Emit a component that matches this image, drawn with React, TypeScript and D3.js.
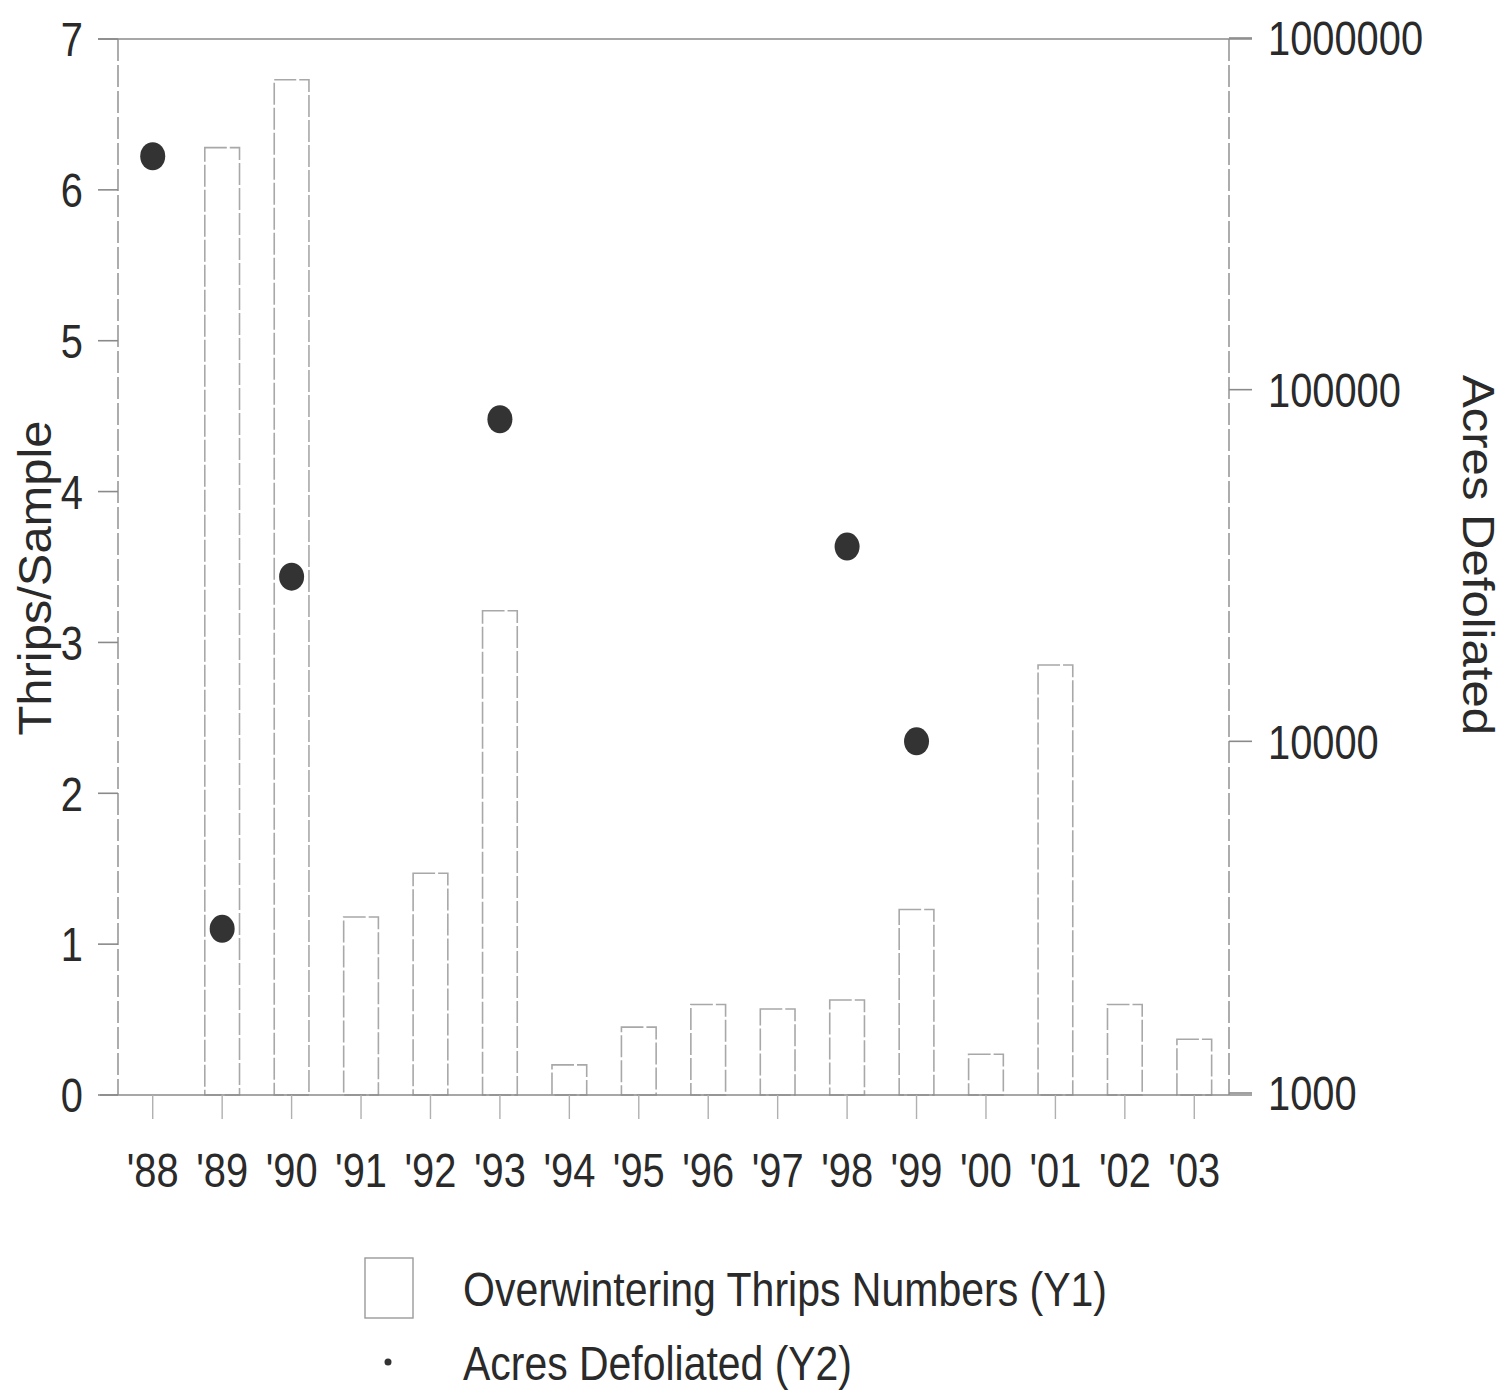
import React from "react";
import * as d3 from "d3";

const years = ["'88", "'89", "'90", "'91", "'92", "'93", "'94", "'95", "'96", "'97", "'98", "'99", "'00", "'01", "'02", "'03"];
const thrips = [0, 6.28, 6.73, 1.18, 1.47, 3.21, 0.2, 0.45, 0.6, 0.57, 0.63, 1.23, 0.27, 2.85, 0.6, 0.37];
const acresYears = ["'88", "'89", "'90", "'93", "'98", "'99"];
const acres = [461000, 2930, 29400, 82400, 35800, 10000];
const y1Ticks = [0, 1, 2, 3, 4, 5, 6, 7];
const y2Ticks = [1000, 10000, 100000, 1000000];

const W = 1505, H = 1391;
const L = 118, R = 1229, T = 39, B = 1095;
const FONT = "'Liberation Sans', Arial, sans-serif";
const TXT = "#2a2a2a";
const LINE = "#8a8a8a";
const SX = 0.83;

function NT(props: { x: number; y: number; anchor?: string; size?: number; children: React.ReactNode; dy?: string }) {
  return (
    <text transform={`translate(${props.x},${props.y}) scale(${SX},1)`} textAnchor={props.anchor || "start"}
      dy={props.dy} fontSize={props.size || 48} fill={TXT}>{props.children}</text>
  );
}

export default function App() {
  const x = d3.scaleBand<string>().domain(years).range([L, R]).paddingInner(0.5).paddingOuter(0.25);
  const xc = (k: string) => (x(k) as number) + x.bandwidth() / 2;
  const y1 = d3.scaleLinear().domain([0, 7]).range([B, T]);
  const y2 = d3.scaleLog().domain([1000, 1000000]).range([B - 2, T - 1]);

  return (
    <svg width={W} height={H} style={{ position: "absolute", left: 0, top: 0, background: "#fff" }} fontFamily={FONT}>
      {/* bars */}
      {years.map((k, i) =>
        thrips[i] > 0 ? (
          <rect key={k} x={x(k)} y={y1(thrips[i])} width={x.bandwidth()} height={B - y1(thrips[i])}
            fill="none" stroke="#a8a8a8" strokeWidth={1.6} strokeDasharray="22 3" />
        ) : null
      )}
      {/* frame */}
      <line x1={98} x2={1252} y1={y1(7)} y2={y1(7)} stroke={LINE} strokeWidth={1.6} />
      <line x1={100} x2={1252} y1={B} y2={B} stroke={LINE} strokeWidth={1.6} />
      <line x1={L} x2={L} y1={T} y2={B} stroke={LINE} strokeWidth={1.4} strokeDasharray="22 4" />
      <line x1={R} x2={R} y1={T} y2={B} stroke={LINE} strokeWidth={1.4} strokeDasharray="22 4" />
      {/* left ticks */}
      {y1Ticks.map((t) => (
        <g key={t}>
          <line x1={98} x2={L} y1={y1(t)} y2={y1(t)} stroke={LINE} strokeWidth={1.6} />
          <NT x={83} y={y1(t)} dy="0.36em" anchor="end">{t}</NT>
        </g>
      ))}
      {/* right ticks */}
      {y2Ticks.map((t) => (
        <g key={t}>
          <line x1={R} x2={1252} y1={y2(t)} y2={y2(t)} stroke={LINE} strokeWidth={1.6} />
          <NT x={1268} y={y2(t)} dy="0.36em">{t}</NT>
        </g>
      ))}
      {/* x ticks */}
      {years.map((k) => (
        <g key={k}>
          <line x1={xc(k)} x2={xc(k)} y1={B} y2={B + 24} stroke="#b0b0b0" strokeWidth={1.4} />
          <NT x={xc(k)} y={1187} anchor="middle">{k}</NT>
        </g>
      ))}
      {/* dots */}
      {acresYears.map((k, i) => (
        <ellipse key={k} cx={xc(k)} cy={y2(acres[i])} rx={12.5} ry={14} fill="#333" />
      ))}
      {/* axis titles */}
      <text transform={`translate(51,578) rotate(-90)`} textAnchor="middle" fontSize={47} fill={TXT}
        textLength={315} lengthAdjust="spacingAndGlyphs">Thrips/Sample</text>
      <text transform={`translate(1463,555) rotate(90)`} textAnchor="middle" fontSize={45} fill={TXT}
        textLength={360} lengthAdjust="spacingAndGlyphs">Acres Defoliated</text>
      {/* legend */}
      <rect x={365} y={1258} width={48} height={60} fill="none" stroke="#9a9a9a" strokeWidth={1.4} />
      <text x={463} y={1306} fontSize={48} fill={TXT} textLength={644} lengthAdjust="spacingAndGlyphs">Overwintering Thrips Numbers (Y1)</text>
      <circle cx={388} cy={1362} r={3.5} fill="#333" />
      <text x={463} y={1380} fontSize={48} fill={TXT} textLength={389} lengthAdjust="spacingAndGlyphs">Acres Defoliated (Y2)</text>
    </svg>
  );
}
